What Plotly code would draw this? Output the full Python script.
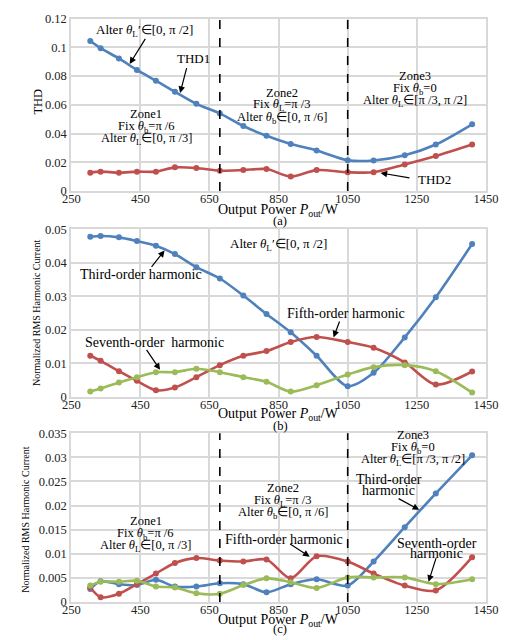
import plotly.graph_objects as go
from plotly.subplots import make_subplots

# ---------------- data ----------------
P_out = [305, 335, 388, 440, 495, 550, 612, 680, 748, 815, 885, 960, 1050, 1125, 1215, 1305, 1410]

thd1 = [0.1045, 0.0995, 0.0923, 0.0843, 0.0768, 0.0691, 0.0607, 0.0540, 0.0452, 0.0384,
        0.0327, 0.0282, 0.0214, 0.0212, 0.0248, 0.0323, 0.0464]
thd2 = [0.0127, 0.0134, 0.0127, 0.0134, 0.0134, 0.0164, 0.0160, 0.0141, 0.0145, 0.0152,
        0.0100, 0.0145, 0.0130, 0.0130, 0.0184, 0.0243, 0.0323]

b_third = [0.0478, 0.0480, 0.0476, 0.0465, 0.0451, 0.0426, 0.0387, 0.0353, 0.0302, 0.0247,
           0.0192, 0.0122, 0.0031, 0.0071, 0.0177, 0.0297, 0.0456]
b_fifth = [0.0122, 0.0107, 0.0076, 0.0047, 0.0019, 0.0027, 0.0058, 0.0094, 0.0122, 0.0136,
           0.0163, 0.0178, 0.0163, 0.0146, 0.0102, 0.0036, 0.0075]
b_seventh = [0.0015, 0.0024, 0.0042, 0.0058, 0.0073, 0.0073, 0.0083, 0.0073, 0.0058, 0.0044,
             0.0015, 0.0034, 0.0066, 0.0088, 0.0094, 0.0076, 0.0012]

c_third = [0.0027, 0.0043, 0.0037, 0.0035, 0.0046, 0.0032, 0.0032, 0.0039, 0.0037, 0.0020,
           0.0037, 0.0047, 0.0034, 0.0084, 0.0155, 0.0225, 0.0304]
c_fifth = [0.0030, 0.0010, 0.0017, 0.0037, 0.0059, 0.0081, 0.0091, 0.0086, 0.0084, 0.0088,
           0.0049, 0.0095, 0.0084, 0.0059, 0.0034, 0.0024, 0.0093]
c_seventh = [0.0034, 0.0042, 0.0042, 0.0044, 0.0032, 0.0030, 0.0018, 0.0017, 0.0035, 0.0049,
             0.0041, 0.0029, 0.0051, 0.0051, 0.0051, 0.0037, 0.0047]

zone_bounds = [680, 1050]
x_ticks = [250, 450, 650, 850, 1050, 1250, 1450]
a_yticks = [0, 0.02, 0.04, 0.06, 0.08, 0.1, 0.12]
b_yticks = [0, 0.01, 0.02, 0.03, 0.04, 0.05]
c_yticks = [0, 0.005, 0.01, 0.015, 0.02, 0.025, 0.03, 0.035]

# ---------------- styling ----------------
BLUE = "#4F81BD"
RED = "#C0504D"
GREEN = "#9BBB59"
GRID = "#D9D9D9"
FONT = "Liberation Serif, Times New Roman, serif"

fig = make_subplots(rows=3, cols=1)

def add_series(y, color, row):
    fig.add_trace(go.Scatter(
        x=P_out, y=y, mode="lines+markers",
        line=dict(color=color, width=2.6, shape="spline", smoothing=0.8),
        marker=dict(color=color, size=6),
        showlegend=False, hoverinfo="skip"), row=row, col=1)

add_series(thd1, BLUE, 1)
add_series(thd2, RED, 1)
add_series(b_third, BLUE, 2)
add_series(b_fifth, RED, 2)
add_series(b_seventh, GREEN, 2)
add_series(c_third, BLUE, 3)
add_series(c_fifth, RED, 3)
add_series(c_seventh, GREEN, 3)

W, H = 520, 640
def py(px):
    return 1 - px / H

x_dom = [65 / W, 498 / W]
y_doms = [[py(188), py(12)], [py(398.3), py(227.3)], [py(608.3), py(435.7)]]
y_ranges = [[0, 0.12], [0, 0.05], [0, 0.035]]
y_tickvals = [a_yticks, b_yticks, c_yticks]
y_ticktext = [["0", "0.02", "0.04", "0.06", "0.08", "0.1", "0.12"],
              ["0", "0.01", "0.02", "0.03", "0.04", "0.05"],
              ["0", "0.005", "0.01", "0.015", "0.02", "0.025", "0.03", "0.035"]]

for i in range(3):
    xa = "xaxis" if i == 0 else f"xaxis{i+1}"
    ya = "yaxis" if i == 0 else f"yaxis{i+1}"
    fig.layout[xa].update(
        domain=x_dom, range=[250, 1450], tickvals=x_ticks,
        showgrid=True, gridcolor=GRID, gridwidth=2,
        showline=True, linecolor=GRID, linewidth=2, mirror=True,
        zeroline=False, ticks="", ticklen=0, ticklabelstandoff=-5,
        tickfont=dict(family=FONT, size=12.5, color="#222"))
    fig.layout[ya].update(
        domain=y_doms[i], range=y_ranges[i], tickvals=y_tickvals[i], ticktext=y_ticktext[i],
        showgrid=True, gridcolor=GRID, gridwidth=2,
        showline=True, linecolor=GRID, linewidth=2, mirror=True,
        zeroline=False, ticks="",
        tickfont=dict(family=FONT, size=12.5, color="#222"))

# zone boundaries (dashed) in (a) and (c)
for row in (1, 3):
    yref = "y domain" if row == 1 else f"y{row} domain"
    xref = "x" if row == 1 else f"x{row}"
    for xb in zone_bounds:
        fig.add_shape(type="line", xref=xref, yref=yref, x0=xb, x1=xb, y0=0, y1=1,
                      line=dict(color="black", width=1.6, dash="dash"))

anns = []

def text(x, y, s, row, size=13, yshift=0):
    xr = "x" if row == 1 else f"x{row}"
    yr = "y" if row == 1 else f"y{row}"
    anns.append(dict(x=x, y=y, xref=xr, yref=yr, text=s, showarrow=False,
                     font=dict(family=FONT, size=size, color="black"),
                     xanchor="center", yanchor="middle", yshift=yshift))

def lines(x, y, rows_txt, row, size=12.5, step=12.5):
    for k, s in enumerate(rows_txt):
        text(x, y, s, row, size=size, yshift=-k * step)

def arrow(x0, y0, x1, y1, row):
    xr = "x" if row == 1 else f"x{row}"
    yr = "y" if row == 1 else f"y{row}"
    anns.append(dict(x=x1, y=y1, ax=x0, ay=y0, xref=xr, yref=yr, axref=xr, ayref=yr,
                     text="", showarrow=True, arrowhead=2, arrowsize=1.1,
                     arrowwidth=1.2, arrowcolor="black"))

th = "<i>θ</i>"
L = "<sub>L</sub>"
b = "<sub>b</sub>"

# panel (a)
text(461, 0.1118, f"Alter {th}{L}′∈[0, π /2]", 1)
arrow(467, 0.107, 419, 0.0885, 1)
text(603, 0.0925, "THD1", 1)
arrow(585, 0.0866, 565, 0.0682, 1)
lines(467, 0.0535, ["Zone1", f"Fix {th}{b}=π /6", f"Alter {th}{L}∈[0, π /3]"], 1)
lines(861, 0.0685, ["Zone2", f"Fix {th}{L}=π /3", f"Alter {th}{b}∈[0, π /6]"], 1)
lines(1244, 0.0800, ["Zone3", f"Fix {th}{b}=0", f"Alter {th}{L}∈[π /3, π /2]"], 1)
text(1300, 0.0082, "THD2", 1)
arrow(1233, 0.0089, 1145, 0.0125, 1)

# panel (b)
text(851, 0.0454, f"Alter {th}{L}′∈[0, π /2]", 2)
text(451, 0.0364, "Third-order harmonic", 2, size=14)
arrow(479, 0.0383, 520, 0.0437, 2)
text(1044, 0.0249, "Fifth-order harmonic", 2, size=14)
arrow(1028, 0.0229, 1009, 0.0177, 2)
text(490, 0.0162, "Seventh-order  harmonic", 2, size=14)
arrow(465, 0.0144, 507, 0.0080, 2)

# panel (c)
lines(465, 0.0167, ["Zone1", f"Fix {th}{b}=π /6", f"Alter {th}{L}∈[0, π /3]"], 3)
lines(862, 0.0236, ["Zone2", f"Fix {th}{L}=π /3", f"Alter {th}{b}∈[0, π /6]"], 3)
lines(1238, 0.0346, ["Zone3", f"Fix {th}{b}=0", f"Alter {th}{L}∈[π /3, π /2]"], 3)
text(865, 0.0130, "Fifth-order harmonic", 3, size=14)
arrow(879, 0.0122, 940, 0.0094, 3)
lines(1169, 0.0254, ["Third-order", "harmonic"], 3, size=14, step=11)
arrow(1193, 0.0216, 1257, 0.0191, 3)
lines(1307, 0.0122, ["Seventh-order", "harmonic"], 3, size=14, step=10)
arrow(1307, 0.0094, 1284, 0.0042, 3)

# axis titles / captions (paper coords)
def ptext(xpx, ypx, s, size=12, angle=0):
    anns.append(dict(x=xpx / W, y=py(ypx), xref="paper", yref="paper", text=s,
                     showarrow=False, textangle=angle,
                     font=dict(family=FONT, size=size, color="black"),
                     xanchor="center", yanchor="middle"))

xtitle = "Output Power <i>P</i><sub>out</sub>/W"
ptext(281, 208, xtitle, size=14)
ptext(283, 219, "(a)", size=12.5)
ptext(281, 417, xtitle, size=14)
ptext(283, 428, "(b)", size=12.5)
ptext(281, 627, xtitle, size=14)
ptext(283, 636, "(c)", size=12.5)
ptext(30, 97, "THD", size=12.5, angle=-90)
ptext(28, 312, "Normalized RMS Harmonic Current", size=10, angle=-90)
ptext(17, 524, "Normalized RMS Harmonic Current", size=10, angle=-90)

fig.update_layout(
    width=W, height=H, margin=dict(l=0, r=0, t=0, b=0),
    paper_bgcolor="white", plot_bgcolor="white",
    annotations=anns, showlegend=False,
    font=dict(family=FONT))

fig.write_html("out.html", config={"displayModeBar": False},
               post_script="document.body.style.margin='0';document.body.style.overflow='hidden';")
